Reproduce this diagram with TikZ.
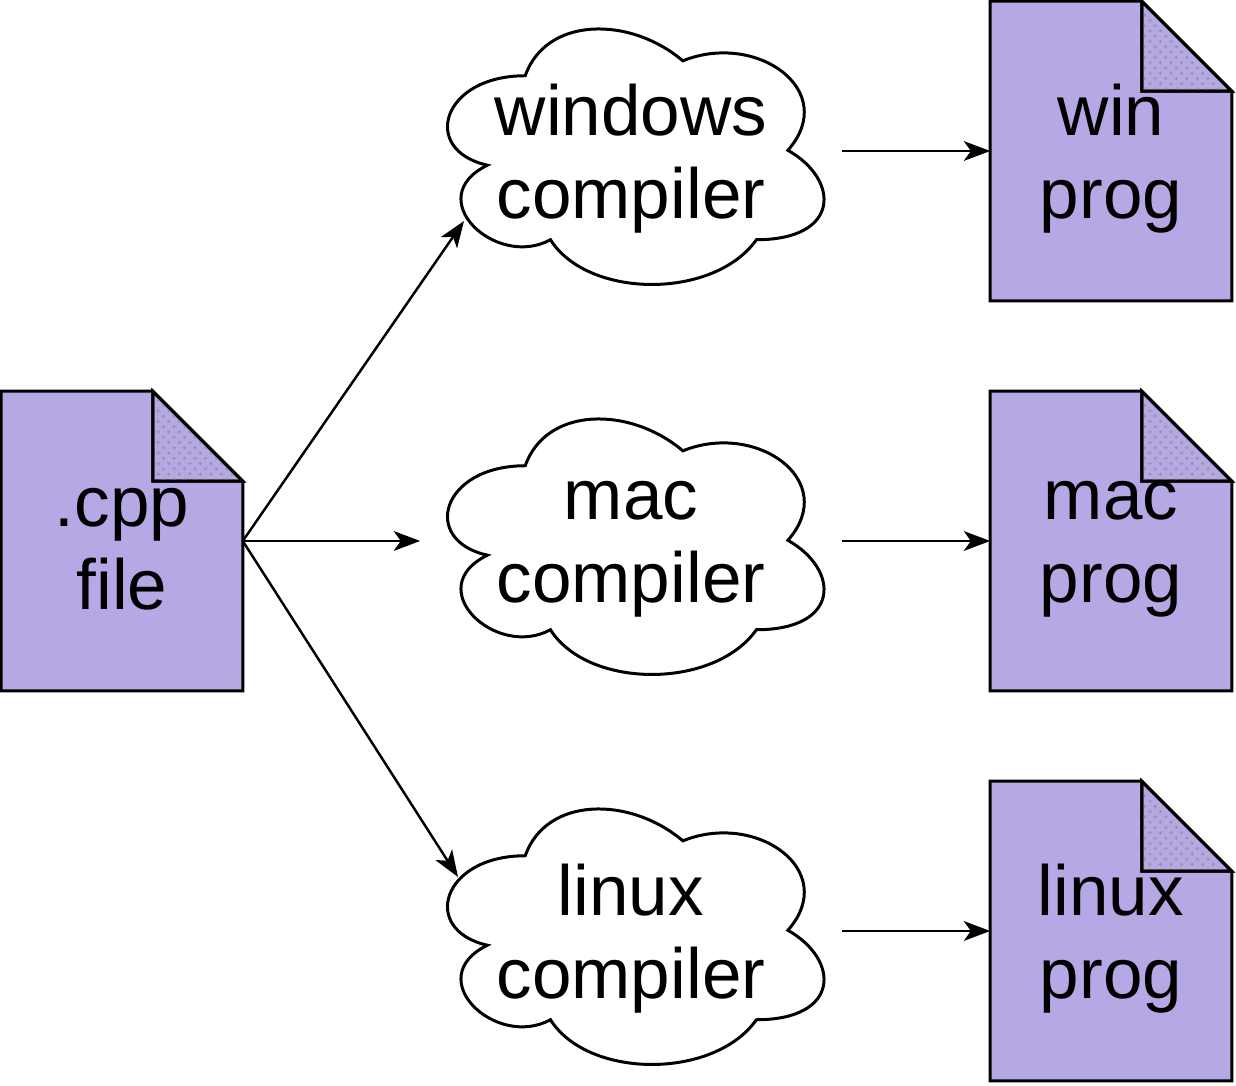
\documentclass[tikz,border=0pt]{standalone}
\usepackage{fontspec}
\setmainfont{Liberation Sans}
\usetikzlibrary{arrows.meta,patterns,calc}
\definecolor{docfill}{HTML}{B5A8E5}
\pgfdeclarelayer{background}
\pgfsetlayers{background,main}
\tikzset{
  lbl/.style={inner sep=0pt, align=center, font=\fontsize{20.2}{23.6}\selectfont},
  docbox/.style={inner sep=0pt, minimum width=2.4cm, minimum height=2.98cm},
  cloudbox/.style={inner sep=0pt, minimum width=4.2cm, minimum height=2.98cm},
  outline/.style={draw=black, line width=0.85pt, line join=miter},
  conn/.style={line width=0.7pt, -{Stealth[length=7.5pt, width=5.6pt, inset=2pt]}}
}
\newcommand\docshape[1]{%
  \begin{pgfonlayer}{background}
  \filldraw[outline, fill=docfill] (#1.north west) -- ($(#1.north east)+(-90,0)$) -- ($(#1.north east)+(0,90)$) -- (#1.south east) -- (#1.south west) -- cycle;
  \filldraw[outline, fill=docfill] ($(#1.north east)+(-90,0)$) -- ($(#1.north east)+(-90,90)$) -- ($(#1.north east)+(0,90)$) -- cycle;
  \fill[pattern=crosshatch dots, pattern color=black!40] ($(#1.north east)+(-89,2)$) -- ($(#1.north east)+(-89,89)$) -- ($(#1.north east)+(-2,89)$) -- cycle;
  \draw[outline] ($(#1.north east)+(-90,0)$) -- ($(#1.north east)+(-90,90)$) -- ($(#1.north east)+(0,90)$) -- cycle;
  \end{pgfonlayer}}
\newcommand\cloudshape[1]{%
  \begin{pgfonlayer}{background}
  \begin{scope}[shift={(#1.north west)}, x=4.2cm, y=-2.98cm]
  \filldraw[outline, fill=white] (0.25,0.25)
    .. controls (0.05,0.25) and (0,0.5) .. (0.16,0.55)
    .. controls (0,0.66) and (0.18,0.9) .. (0.31,0.8)
    .. controls (0.4,1) and (0.7,1) .. (0.8,0.8)
    .. controls (1,0.8) and (1,0.6) .. (0.875,0.5)
    .. controls (1,0.3) and (0.8,0.1) .. (0.625,0.2)
    .. controls (0.5,0.05) and (0.3,0.05) .. (0.25,0.25) -- cycle;
  \end{scope}
  \end{pgfonlayer}}
\begin{document}
\begin{tikzpicture}[x=0.01cm, y=-0.01cm]
\useasboundingbox (0,0) rectangle (1236,1086);
% source document
\node[docbox] (cpp) at (122,541) {};
\docshape{cpp}
\node[lbl] (cpp-t) at ([yshift=-0.08cm]cpp.center) {.cpp\\file};
% compilers
\node[cloudbox] (winc) at (631,151) {};
\node[cloudbox] (macc) at (631,541) {};
\node[cloudbox] (linc) at (631,931) {};
\cloudshape{winc}
\cloudshape{macc}
\cloudshape{linc}
\node[lbl] (winc-t) at ([yshift=-0.08cm]winc.center) {windows\\compiler};
\node[lbl] (macc-t) at ([yshift=-0.08cm]macc.center) {mac\\compiler};
\node[lbl] (linc-t) at ([yshift=-0.08cm]linc.center) {linux\\compiler};
% programs
\node[docbox] (winp) at (1111,151) {};
\node[docbox] (macp) at (1111,541) {};
\node[docbox] (linp) at (1111,931) {};
\docshape{winp}
\docshape{macp}
\docshape{linp}
\node[lbl] (winp-t) at ([yshift=-0.08cm]winp.center) {win\\prog};
\node[lbl] (macp-t) at ([yshift=-0.08cm]macp.center) {mac\\prog};
\node[lbl] (linp-t) at ([yshift=-0.08cm]linp.center) {linux\\prog};
% connector end points on the clouds
\coordinate (wintip) at (464,221);
\coordinate (lintip) at (458,877);
% connectors
\draw[conn] (cpp.east) -- (wintip);
\draw[conn] (cpp.east) -- (macc.west);
\draw[conn] (cpp.east) -- (lintip);
\draw[conn] (winc.east) -- (winp.west);
\draw[conn] (macc.east) -- (macp.west);
\draw[conn] (linc.east) -- (linp.west);
\end{tikzpicture}
\end{document}
